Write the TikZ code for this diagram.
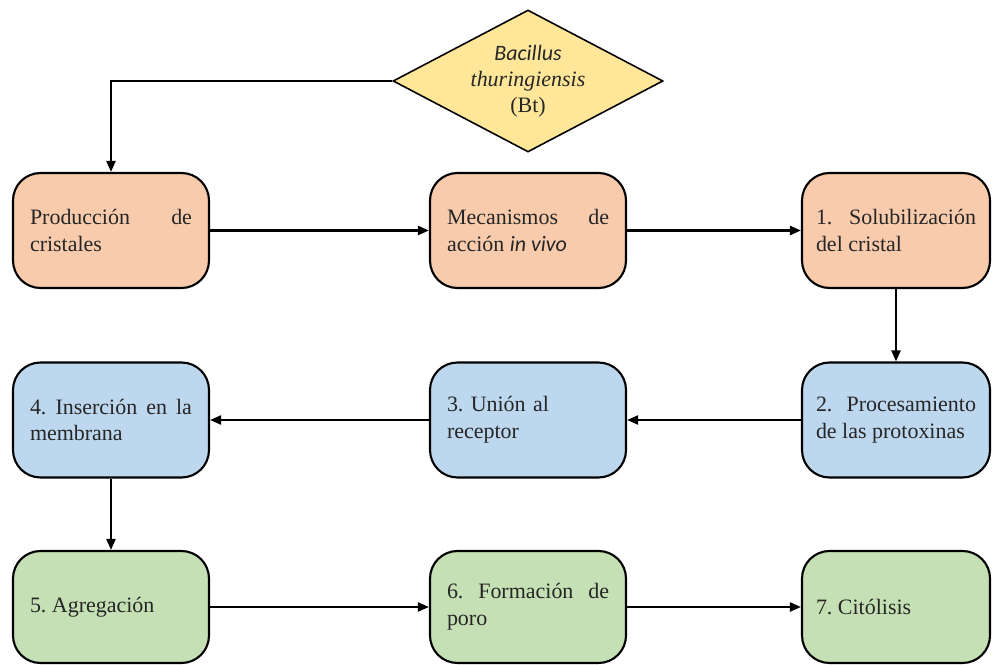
\documentclass[tikz,border=0pt]{standalone}
\usepackage{fontspec}
\setmainfont{LiberationSerif-Regular.ttf}[
    BoldFont=LiberationSerif-Bold.ttf,
    ItalicFont=LiberationSerif-Italic.ttf,
    BoldItalicFont=LiberationSerif-BoldItalic.ttf]
\newfontfamily\calibrifont{Carlito}
\usepackage{tikz}
\usetikzlibrary{arrows.meta, shapes.geometric}
\frenchspacing

\definecolor{peach}{HTML}{F8CBAD}
\definecolor{skyblue}{HTML}{BDD7EE}
\definecolor{sage}{HTML}{C5E0B4}
\definecolor{sand}{HTML}{FFE699}

\begin{document}
\begin{tikzpicture}[
    >={Triangle[length=2.2mm, width=1.8mm]},
    process box/.style={
        draw,
        line width=1.2pt,
        rounded corners=0.55cm,
        minimum height=2.3cm,
        text width=3.24cm,
        inner xsep=0.34cm,
        align=justify,
        text=black!85,
        font=\fontsize{12.5pt}{15.3pt}\selectfont
    },
    right box/.style={process box, text width=3.2cm, inner xsep=0.28cm},
    bottom box/.style={minimum height=2.24cm},
    link/.style={->, line width=1.3pt}
]

% fixed frame
\useasboundingbox (0,0) rectangle (19.84,13.28);

% ==================== SOURCE ====================
\node[diamond, draw, line width=0.9pt, fill=sand, aspect=1.9,
      minimum width=5.4cm, minimum height=2.84cm, inner sep=0pt,
      align=center, text=black!85,
      font=\fontsize{12.5pt}{14.7pt}\selectfont] (bt) at (10.56,11.66)
    {{\calibrifont\itshape Bacillus}\\ \textit{thuringiensis}\\ (Bt)};

% ==================== ROW 1 ====================
\node[process box, fill=peach] (prod) at (2.22,8.67) {Producción de cristales};
\node[process box, fill=peach] (meca) at (10.56,8.67) {Mecanismos de acción {\calibrifont\itshape in vivo}};
\node[right box, fill=peach] (sol) at (17.92,8.67) {1. Solubilización del cristal};

% ==================== ROW 2 ====================
\node[process box, fill=skyblue] (ins) at (2.22,4.88) {4. Inserción en la membrana};
\node[process box, fill=skyblue, align=left] (union) at (10.56,4.88) {3. Unión al\\receptor};
\node[right box, fill=skyblue] (proc) at (17.92,4.88) {2. Procesamiento de las protoxinas};

% ==================== ROW 3 ====================
\node[process box, bottom box, fill=sage] (agr) at (2.22,1.14) {5. Agregación};
\node[process box, bottom box, fill=sage] (form) at (10.56,1.14) {6. Formación de poro};
\node[right box, bottom box, fill=sage] (cito) at (17.92,1.14) {7. Citólisis};

% Connectors
\draw[link] (bt.west) -| (prod.north);
\draw[link] (prod.east) -- (meca.west);
\draw[link] (meca.east) -- (sol.west);
\draw[link] (sol.south) -- (proc.north);
\draw[link] (proc.west) -- (union.east);
\draw[link] (union.west) -- (ins.east);
\draw[link] (ins.south) -- (agr.north);
\draw[link] (agr.east) -- (form.west);
\draw[link] (form.east) -- (cito.west);

\end{tikzpicture}
\end{document}
